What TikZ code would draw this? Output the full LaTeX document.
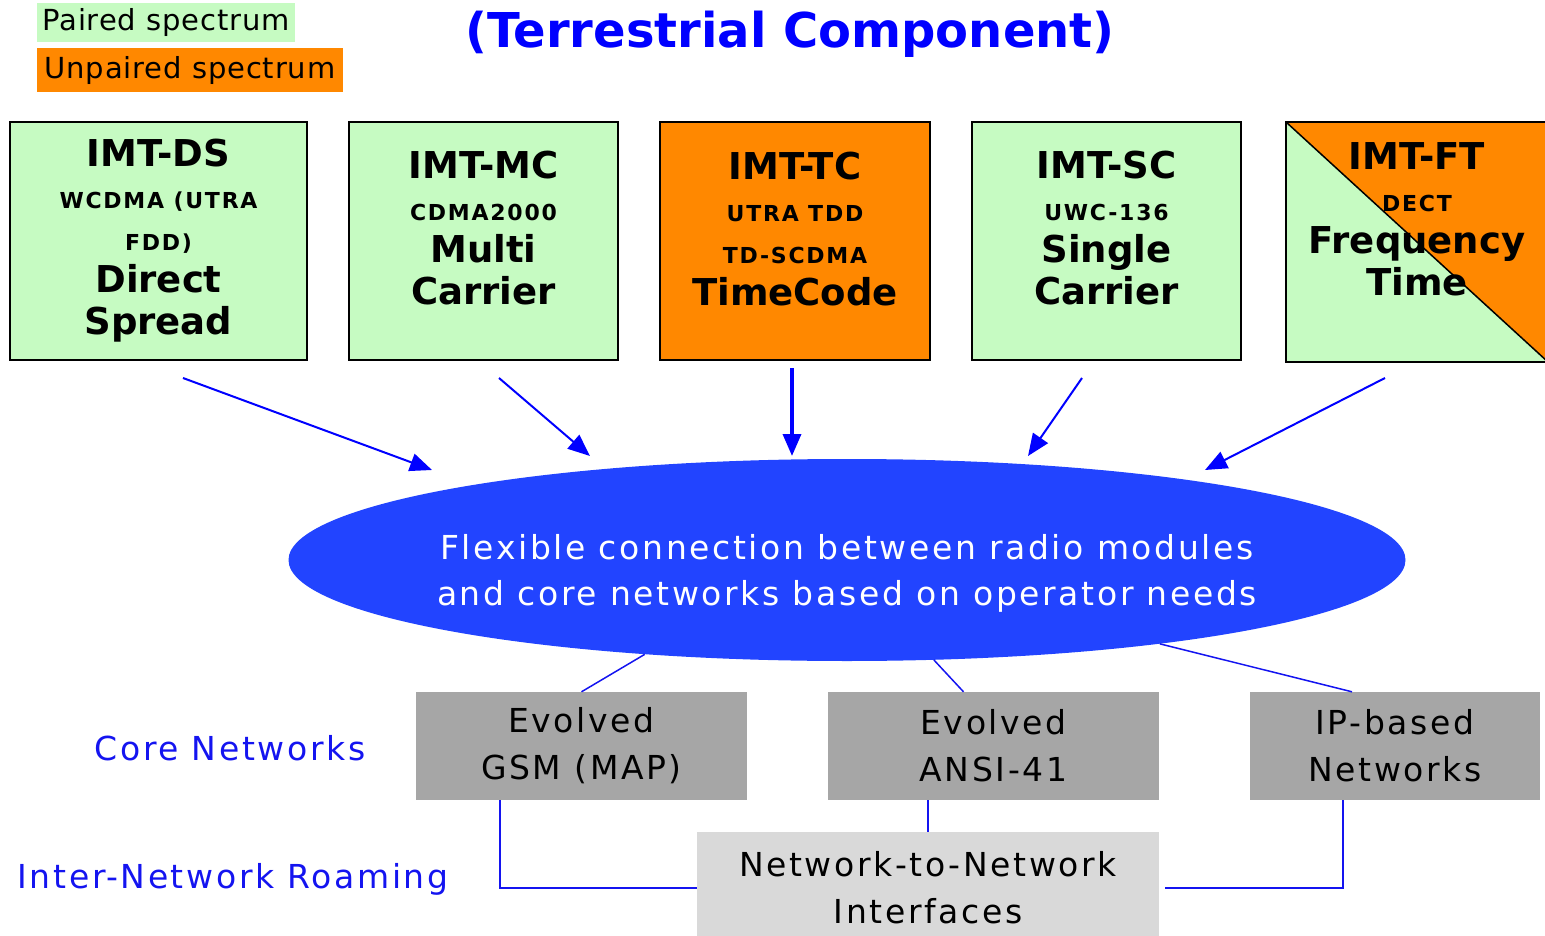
\documentclass[tikz,border=0pt]{standalone}
\usepackage{fontspec}
\setmainfont{DejaVu Sans}
\usetikzlibrary{positioning, shapes.geometric, arrows.meta}
\definecolor{paired}{RGB}{198,251,194}
\definecolor{unpaired}{RGB}{255,136,0}
\definecolor{flexblue}{RGB}{34,68,255}
\definecolor{linkblue}{RGB}{20,20,240}
\definecolor{coregray}{RGB}{166,166,166}
\definecolor{nnigray}{RGB}{217,217,217}
\newcommand{\wide}{\addfontfeatures{LetterSpace=8}}

\begin{document}
\begin{tikzpicture}[x=1pt, y=-1pt, >={Triangle[length=22pt,width=18pt]},
        every node/.style={inner sep=0pt, align=center},
        legend/.style={minimum width=#1, font=\fontsize{29}{30}\selectfont\addfontfeatures{LetterSpace=3}},
        radio/.style={draw=black, line width=1.5pt, fill=paired, minimum height=238pt, minimum width=#1,
            font=\fontsize{37}{42}\selectfont\bfseries},
        core/.style={fill=coregray, minimum height=108pt, minimum width=#1, font=\fontsize{33}{47}\selectfont\wide},
        side/.style={text=linkblue, font=\fontsize{33}{36}\selectfont\wide},
        link/.style={draw=linkblue, line width=1.5pt},
        feed/.style={draw=blue, line width=2pt, ->}]
        \useasboundingbox (0,0) rectangle (1545,936);

        % legend and title
        \node[legend=258pt, fill=paired, minimum height=39pt] (pair) at (166,22.5) {Paired spectrum};
        \node[legend=306pt, fill=unpaired, minimum height=44pt, below=6pt of pair.south west, anchor=north west] (unpair) {Unpaired spectrum};
        \node[text=blue, font=\fontsize{48}{50}\selectfont\bfseries] (title) at (790,34) {(Terrestrial Component)};

        % radio modules
        \newcommand{\sub}[1]{{\fontsize{22}{32}\selectfont\wide #1}}
        \node[radio=297pt] (ds) at (158.5,241) {IMT-DS\\\sub{WCDMA (UTRA}\\\sub{FDD)}\\Direct\\Spread};
        \node[radio=269pt] (mc) at (483.5,241) {IMT-MC\\\sub{CDMA2000}\\Multi\\Carrier\\[-16pt]};
        \node[radio=270pt, fill=unpaired] (tc) at (795,241) {IMT-TC\\\sub{UTRA TDD}\\\sub{TD-SCDMA}\\TimeCode\\[-18pt]};
        \node[radio=269pt] (sc) at (1106.5,241) {IMT-SC\\\sub{UWC-136}\\Single\\Carrier\\[-16pt]};
        \node[radio=262pt, minimum height=240pt,
            path picture={\fill[unpaired] (path picture bounding box.north west) -- (path picture bounding box.north east)
                -- (path picture bounding box.south east) -- cycle;
                \draw[line width=1.5pt] (path picture bounding box.north west) -- (path picture bounding box.south east);}]
            (ft) at (1417,242) {IMT-FT\\\sub{DECT}\\Frequency\\Time\\[4pt]};

        % flexible connection
        \node[ellipse, fill=flexblue, minimum width=1117pt, minimum height=202pt] (flex) at (847,560) {};
        \node[text=white, font=\fontsize{33}{46}\selectfont\wide] (flextext) at ([yshift=-13pt]flex.center)
            {Flexible connection between radio modules\\and core networks based on operator needs};

        \coordinate (dsfoot) at (183,378);
        \coordinate (mcfoot) at (499,378);
        \coordinate (tcfoot) at (792,368);
        \coordinate (scfoot) at (1082,378);
        \coordinate (ftfoot) at (1385,378);
        \coordinate (dstip) at (432,470);
        \coordinate (mctip) at (590,456);
        \coordinate (tctip) at (792,456);
        \coordinate (sctip) at (1028,456);
        \coordinate (fttip) at (1205,470);

        \path
        (dsfoot) edge[feed] (dstip)
        (mcfoot) edge[feed] (mctip)
        (tcfoot) edge[feed, line width=3.5pt] (tctip)
        (scfoot) edge[feed] (sctip)
        (ftfoot) edge[feed] (fttip);

        % core networks
        \node[side] (corelbl) at (230,748) {Core Networks};
        \node[side] (roamlbl) at (233,879) {Inter-Network Roaming};
        \node[core=331pt] (gsm) at (581.5,746) {Evolved\\GSM (MAP)};
        \node[core=331pt] (ansi) at (993.5,746) {Evolved\\ANSI-41};
        \node[core=290pt] (ip) at (1395,746) {IP-based\\Networks};
        \node[fill=nnigray, minimum width=462pt, minimum height=112pt, font=\fontsize{33}{47}\selectfont\wide] (nni) at (928,888)
            {Network-to-Network\\Interfaces};

        \draw[link] (flex.205) -- (gsm.north);
        \draw[link] (flex.311) -- ([xshift=-30pt]ansi.north);
        \draw[link] (flex.345) -- ([xshift=-43pt]ip.north);
        \draw[link] ([xshift=-81.5pt]gsm.south) |- (nni.west);
        \draw[link] (ansi.south -| nni.north) -- (nni.north);
        \draw[link, shorten >=6pt] ([xshift=-52pt]ip.south) |- (nni.east);
    \end{tikzpicture}
\end{document}
